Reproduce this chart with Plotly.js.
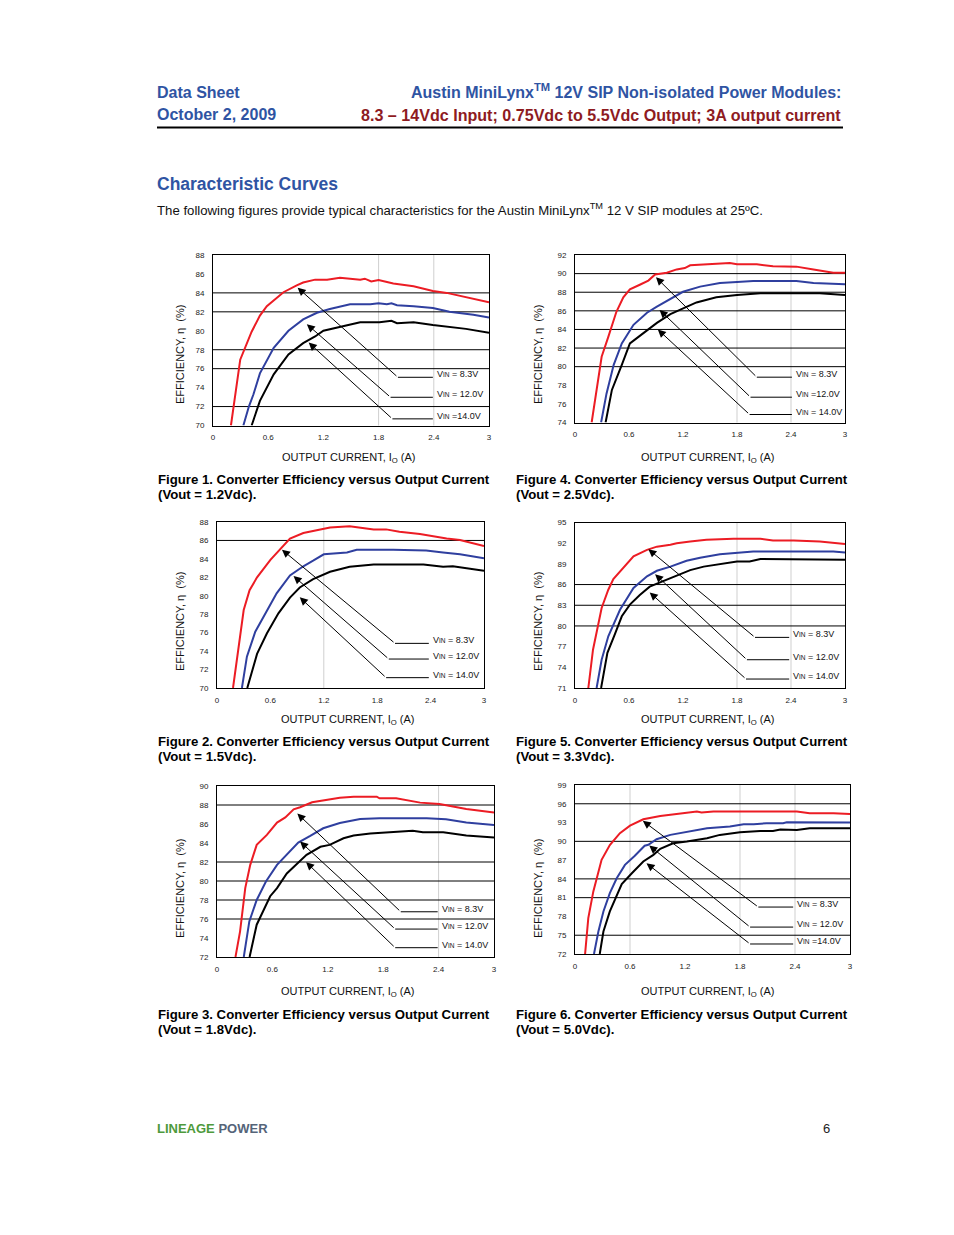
<!DOCTYPE html>
<html>
<head>
<meta charset="utf-8">
<script src="https://cdn.plot.ly/plotly-3.0.1.min.js"></script>
<style>
html,body{margin:0;padding:0;background:#fff;}
#chart{width:954px;height:1235px;}
</style>
</head>
<body>
<div id="chart"></div>
<script>
// ---------------- DATA ----------------
var xTickVals = [0, 0.6, 1.2, 1.8, 2.4, 3];
var xTickText = ['0', '0.6', '1.2', '1.8', '2.4', '3'];
var vinNames = ['8.3V', '12.0V', '14.0V'];
var vouts = ['1.2', '1.5', '1.8', '2.5', '3.3', '5.0'];
var figNums = [1, 2, 3, 4, 5, 6];

// Figure 1 (Vout = 1.2Vdc)
var f1_r_x = [0.195,0.296,0.42,0.51,0.585,0.766,0.91,0.98,1.11,1.24,1.38,1.6,1.65,1.72,1.80,1.96,2.18,2.39,2.54,2.68,3.0];
var f1_r_y = [70,76.95,79.9,81.6,82.6,84.07,84.8,85.1,85.4,85.4,85.6,85.4,85.5,85.2,85.35,85.0,84.7,84.2,84.0,83.7,83.0];
var f1_b_x = [0.33,0.39,0.44,0.51,0.66,0.82,0.98,1.13,1.27,1.49,1.71,1.80,1.89,1.94,2.0,2.18,2.39,2.57,2.83,3.0];
var f1_b_y = [70,72.0,73.3,75.5,78.2,80.0,81.2,81.9,82.3,82.8,82.8,82.9,82.8,82.9,82.7,82.6,82.4,82.0,81.7,81.4];
var f1_k_x = [0.42,0.51,0.66,0.82,0.98,1.11,1.2,1.33,1.40,1.6,1.81,1.94,2.0,2.18,2.39,2.57,2.75,3.0];
var f1_k_y = [70,72.6,75.4,77.5,78.7,79.4,80.0,80.3,80.5,80.9,80.9,81.05,80.8,80.9,80.6,80.4,80.2,79.8];

// Figure 2 (Vout = 1.5Vdc)
var f2_r_x = [0.18,0.217,0.30,0.366,0.45,0.6,0.71,0.82,0.97,1.12,1.27,1.49,1.61,1.76,1.9,2.05,2.28,2.58,2.73,3.0];
var f2_r_y = [70,72.67,78.45,80.6,82.0,83.9,85.0,86.2,86.8,87.1,87.4,87.55,87.4,87.2,87.2,86.95,86.7,86.2,86.05,85.4];
var f2_b_x = [0.28,0.336,0.43,0.56,0.67,0.82,0.97,1.08,1.2,1.46,1.57,1.98,2.35,2.54,2.73,3.0];
var f2_b_y = [70,73.4,76.1,78.45,80.27,82.2,83.2,83.8,84.5,84.7,85.0,85.0,84.9,84.7,84.5,84.06];
var f2_k_x = [0.34,0.45,0.56,0.69,0.82,0.93,1.08,1.27,1.49,1.76,2.32,2.54,2.65,3.0];
var f2_k_y = [70,73.7,75.9,78.1,79.8,80.9,81.8,82.6,83.15,83.4,83.4,83.15,83.2,82.7];

// Figure 3 (Vout = 1.8Vdc)
var f3_r_x = [0.2,0.25,0.306,0.36,0.43,0.54,0.65,0.74,0.83,0.9,1.03,1.15,1.33,1.48,1.73,1.76,1.94,2.2,2.41,2.7,3.0];
var f3_r_y = [72,74.7,79.25,81.7,83.8,84.85,86.15,86.7,87.55,87.76,88.28,88.46,88.77,88.88,88.88,88.7,88.7,88.25,88.1,87.58,87.2];
var f3_b_x = [0.29,0.35,0.43,0.53,0.65,0.76,0.88,1.01,1.15,1.33,1.55,1.76,2.27,2.48,2.7,3.0];
var f3_b_y = [72,75.75,78.0,79.95,81.7,82.86,84.05,84.75,85.55,86.1,86.53,86.6,86.6,86.5,86.15,85.9];
var f3_k_x = [0.353,0.43,0.576,0.65,0.756,0.9,0.97,1.12,1.22,1.37,1.48,1.66,1.91,2.12,2.23,2.45,2.7,3.0];
var f3_k_y = [72,75.4,78.4,79.25,80.8,82.15,82.75,83.6,83.8,84.5,84.78,85.0,85.13,85.3,85.13,85.13,84.78,84.57];

// Figure 4 (Vout = 2.5Vdc)
var f4_r_x = [0.185,0.296,0.37,0.46,0.537,0.61,0.72,0.815,0.89,1.02,1.13,1.22,1.28,1.46,1.72,1.8,2.02,2.2,2.46,2.65,2.87,3.0];
var f4_r_y = [74,81.06,83.2,85.9,87.45,88.3,88.8,89.25,89.9,90.1,90.45,90.6,90.9,91.0,91.15,91.0,91.0,90.8,90.75,90.45,90.1,90.1];
var f4_b_x = [0.29,0.35,0.43,0.52,0.65,0.80,0.91,1.02,1.2,1.39,1.61,1.8,1.98,2.46,2.65,3.0];
var f4_b_y = [74,77.1,80.2,82.5,84.5,85.8,86.45,87.05,88.05,88.6,89.0,89.1,89.2,89.2,89.0,88.85];
var f4_k_x = [0.34,0.41,0.52,0.61,0.76,0.91,1.06,1.2,1.35,1.57,1.8,2.06,2.46,2.72,3.0];
var f4_k_y = [74,77.5,80.2,82.5,83.6,84.7,85.65,86.25,86.9,87.45,87.7,87.9,87.9,87.9,87.7];

// Figure 5 (Vout = 3.3Vdc)
var f5_r_x = [0.148,0.2,0.296,0.37,0.426,0.537,0.65,0.8,0.91,1.06,1.13,1.28,1.46,1.76,2.06,2.2,2.43,2.72,2.91,3.0];
var f5_r_y = [71,76.55,82.6,85.25,86.8,88.4,90.1,91.04,91.5,91.76,92.0,92.25,92.5,92.63,92.63,92.4,92.4,92.25,92.0,91.9];
var f5_b_x = [0.24,0.296,0.37,0.5,0.65,0.8,0.91,1.06,1.24,1.39,1.61,1.83,1.98,2.87,3.0];
var f5_b_y = [71,75.1,78.5,82.35,85.5,87.2,88.0,88.6,89.45,89.9,90.4,90.65,90.8,90.8,90.65];
var f5_k_x = [0.29,0.36,0.44,0.52,0.61,0.72,0.83,0.98,1.13,1.28,1.43,1.61,1.8,1.94,2.06,3.0];
var f5_k_y = [71,76.1,78.7,81.4,83.1,84.5,85.7,86.5,87.4,88.1,88.6,89.0,89.35,89.35,89.7,89.6];

// Figure 6 (Vout = 5.0Vdc)
var f6_r_x = [0.11,0.145,0.2,0.29,0.38,0.49,0.6,0.745,0.93,1.11,1.33,1.38,1.51,2.42,2.56,2.82,3.0];
var f6_r_y = [72,77.74,82.0,87.04,89.4,91.3,92.5,93.53,94.06,94.38,94.75,94.6,94.75,94.75,94.5,94.5,94.38];
var f6_b_x = [0.207,0.255,0.31,0.38,0.455,0.545,0.65,0.76,0.8,0.89,1.04,1.22,1.44,1.69,1.84,1.95,2.09,2.27,2.31,3.0];
var f6_b_y = [72,75.6,78.8,81.73,84.1,86.24,87.66,89.3,89.44,90.34,91.03,91.56,92.1,92.36,92.73,92.73,92.9,92.9,93.05,93.0];
var f6_k_x = [0.27,0.31,0.38,0.51,0.62,0.745,0.855,0.93,1.07,1.22,1.44,1.58,1.8,2.02,2.16,2.24,2.42,2.56,3.0];
var f6_k_y = [72,75.6,78.8,83.16,84.9,86.78,87.84,88.8,89.7,89.97,90.5,91.03,91.45,91.67,91.67,91.9,91.83,92.09,92.09];

// ---------------- LAYOUT / STYLE ----------------
var W = 954, H = 1235;
var FONT = 'Liberation Sans, Arial, Helvetica, sans-serif';
var BLUEH = '#2f54a3', REDH = '#8e1b1f';
var COLORS = ['#ec1c24', '#2f3f9f', '#000000'];
function px(p){ return p / W; }
function py(p){ return 1 - p / H; }

var figs = [
  {n:1, box:[213,489,255,425.5], yr:[70,88], dy:2, hl:[84,82,78,76,72], vl:[1.8,2.4],
   s:[[f1_r_x,f1_r_y],[f1_b_x,f1_b_y],[f1_k_x,f1_k_y]],
   tail:[[2.01,75.09],[1.93,72.98],[1.95,70.7]], tip:[[0.92,84.55],[1.02,80.7],[1.04,78.75]], lx1:2.39,
   eq:[' = ',' = ',' ='], ytc:355, xtc:349, xty:458, cap:479, col:156},
  {n:2, box:[217,484,522,688], yr:[70,88], dy:2, hl:[86], vl:[1.2],
   s:[[f2_r_x,f2_r_y],[f2_b_x,f2_b_y],[f2_k_x,f2_k_y]],
   tail:[[2.0,74.84],[1.93,73.14],[1.90,71.12]], tip:[[0.73,85.0],[0.86,82.14],[0.93,79.83]], lx1:2.38,
   eq:[' = ',' = ',' = '], ytc:622, xtc:348, xty:720, cap:741, col:156},
  {n:3, box:[217,494,786,957], yr:[72,90], dy:2, hl:[88,82,80,78,76], vl:[2.4],
   s:[[f3_r_x,f3_r_y],[f3_b_x,f3_b_y],[f3_k_x,f3_k_y]],
   tail:[[1.99,76.76],[1.93,74.94],[1.93,72.98]], tip:[[0.87,87.1],[0.9,84.15],[0.965,81.98]], lx1:2.39,
   eq:[' = ',' = ',' = '], ytc:889, xtc:348, xty:992, cap:1014, col:156},
  {n:4, box:[575,845,255,422.5], yr:[74,92], dy:2, hl:[90,88,86,84,82,80], vl:[1.8,2.4],
   s:[[f4_r_x,f4_r_y],[f4_b_x,f4_b_y],[f4_k_x,f4_k_y]],
   tail:[[2.02,78.87],[1.95,76.72],[1.94,74.86]], tip:[[0.9,89.6],[0.94,86.1],[0.92,84.0]], lx1:2.41,
   eq:[' = ',' =',' = '], ytc:355, xtc:708, xty:458, cap:479, col:514},
  {n:5, box:[575,845,522.5,688], yr:[71,95], dy:3, hl:[86,83,80], vl:[1.8,2.4],
   s:[[f5_r_x,f5_r_y],[f5_b_x,f5_b_y],[f5_k_x,f5_k_y]],
   tail:[[2.0,78.34],[1.91,75.1],[1.9,72.3]], tip:[[0.815,91.13],[0.89,87.5],[0.83,84.86]], lx1:2.38,
   eq:[' = ',' = ',' = '], ytc:622, xtc:708, xty:720, cap:741, col:514},
  {n:6, box:[575,850,785,954], yr:[72,99], dy:3, hl:[96,90,84,81,75], vl:[0.6,1.8,2.4],
   s:[[f6_r_x,f6_r_y],[f6_b_x,f6_b_y],[f6_k_x,f6_k_y]],
   tail:[[2.0,79.5],[1.91,76.3],[1.91,73.6]], tip:[[0.74,93.27],[0.81,89.33],[0.78,86.5]], lx1:2.38,
   eq:[' = ',' = ',' ='], ytc:889, xtc:708, xty:992, cap:1014, col:514}
];

var data = [], shapes = [], annotations = [];
var layout = {
  width: W, height: H, margin: {l:0, r:0, t:0, b:0},
  paper_bgcolor: '#fff', plot_bgcolor: '#fff', showlegend: false,
  font: {family: FONT, color: '#000'}
};

figs.forEach(function(f, i){
  var k = i + 1;
  var xa = 'xaxis' + (k === 1 ? '' : k), ya = 'yaxis' + (k === 1 ? '' : k);
  var xr = 'x' + (k === 1 ? '' : k), yr = 'y' + (k === 1 ? '' : k);
  layout[xa] = {
    domain: [px(f.box[0]), px(f.box[1])], anchor: yr, range: [0, 3],
    tickvals: xTickVals, ticktext: xTickText, ticks: '', ticklabelstandoff: 4,
    showline: true, mirror: true, linecolor: '#000', linewidth: 1,
    showgrid: false, zeroline: false, fixedrange: true,
    tickfont: {size: 8, family: FONT, color: '#222'}
  };
  layout[ya] = {
    domain: [py(f.box[3]), py(f.box[2])], anchor: xr, range: f.yr, dtick: f.dy, tick0: f.yr[0],
    ticks: '', ticklabelstandoff: 6,
    showline: true, mirror: true, linecolor: '#000', linewidth: 1,
    showgrid: false, zeroline: false, fixedrange: true,
    tickfont: {size: 8, family: FONT, color: '#222'}
  };
  // gray vertical grid lines
  f.vl.forEach(function(v){
    shapes.push({type:'line', xref: xr, yref: yr + ' domain', x0: v, x1: v, y0: 0, y1: 1,
      line: {color: '#cfcfcf', width: 1}, layer: 'below'});
  });
  // black horizontal grid lines
  f.hl.forEach(function(v){
    shapes.push({type:'line', xref: xr + ' domain', yref: yr, x0: 0, x1: 1, y0: v, y1: v,
      line: {color: '#000', width: 1}, layer: 'below'});
  });
  // curves
  f.s.forEach(function(s, j){
    data.push({x: s[0], y: s[1], type: 'scatter', mode: 'lines', xaxis: xr, yaxis: yr,
      line: {color: COLORS[j], width: 2}, hoverinfo: 'skip'});
  });
  // callouts
  for (var j = 0; j < 3; j++){
    shapes.push({type:'line', xref: xr, yref: yr, x0: f.tail[j][0], x1: f.lx1, y0: f.tail[j][1], y1: f.tail[j][1],
      line: {color: '#000', width: 1}});
    annotations.push({xref: xr, yref: yr, axref: xr, ayref: yr, x: f.tip[j][0], y: f.tip[j][1],
      ax: f.tail[j][0], ay: f.tail[j][1], text: '', showarrow: true, arrowhead: 2, arrowsize: 1.6,
      arrowwidth: 1, arrowcolor: '#000', standoff: 0, startstandoff: 0});
    annotations.push({xref: xr, yref: yr, x: f.lx1, y: f.tail[j][1], xanchor: 'left', yanchor: 'middle',
      xshift: 2, yshift: 3, showarrow: false,
      text: 'V<span style="font-size:6.5px">IN</span>' + f.eq[j] + vinNames[j],
      font: {size: 9, family: FONT, color: '#111'}});
  }
  // axis titles
  annotations.push({xref:'paper', yref:'paper', x: px(f.col === 156 ? 180 : 538), y: py(f.ytc),
    text: 'EFFICIENCY, η  (%)', textangle: -90, showarrow: false, xanchor: 'center', yanchor: 'middle',
    font: {size: 11, family: FONT, color: '#111'}});
  annotations.push({xref:'paper', yref:'paper', x: px(f.xtc), y: py(f.xty),
    text: 'OUTPUT CURRENT, I<sub>O</sub> (A)', showarrow: false, xanchor: 'center', yanchor: 'middle',
    font: {size: 11, family: FONT, color: '#111'}});
  // captions
  annotations.push({xref:'paper', yref:'paper', x: px(f.col), y: py(f.cap), xanchor: 'left', yanchor: 'middle',
    text: '<b>Figure ' + figNums[i] + '. Converter Efficiency versus Output Current</b>', showarrow: false,
    font: {size: 13.2, family: FONT, color: '#000'}});
  annotations.push({xref:'paper', yref:'paper', x: px(f.col), y: py(f.cap + 15), xanchor: 'left', yanchor: 'middle',
    text: '<b>(Vout = ' + vouts[i] + 'Vdc).</b>', showarrow: false,
    font: {size: 13.2, family: FONT, color: '#000'}});
});

// Page header and texts
function pageText(txt, x, y, anchor, size, color){
  annotations.push({xref:'paper', yref:'paper', x: px(x), y: py(y), xanchor: anchor, yanchor: 'middle',
    text: txt, showarrow: false, font: {size: size, family: FONT, color: color}});
}
pageText('<b>Data Sheet</b>', 155, 92.5, 'left', 16, BLUEH);
pageText('<b>October 2, 2009</b>', 155, 115, 'left', 16, BLUEH);
pageText('<b>Austin MiniLynx<sup>TM</sup> 12V SIP Non-isolated Power Modules:</b>', 843, 91, 'right', 16, BLUEH);
pageText('<b>8.3 – 14Vdc Input; 0.75Vdc to 5.5Vdc Output; 3A output current</b>', 843, 115.5, 'right', 16.1, REDH);
pageText('<b>Characteristic Curves</b>', 155, 184, 'left', 17.5, BLUEH);
pageText('The following figures provide typical characteristics for the Austin MiniLynx<sup>TM</sup> 12 V SIP modules at 25ºC.', 155, 209.5, 'left', 13.2, '#111');
pageText('<b><span style="color:#4e9a3c">LINEAGE</span> <span style="color:#556479">POWER</span></b>', 155, 1128, 'left', 13, '#4e9a3c');
pageText('6', 832, 1128, 'right', 13, '#222');

shapes.push({type:'line', xref:'paper', yref:'paper', x0: px(157), x1: px(843), y0: py(127.5), y1: py(127.5),
  line: {color: '#000', width: 2}});

layout.shapes = shapes;
layout.annotations = annotations;

Plotly.newPlot('chart', data, layout, {staticPlot: true, displayModeBar: false});
</script>
</body>
</html>
